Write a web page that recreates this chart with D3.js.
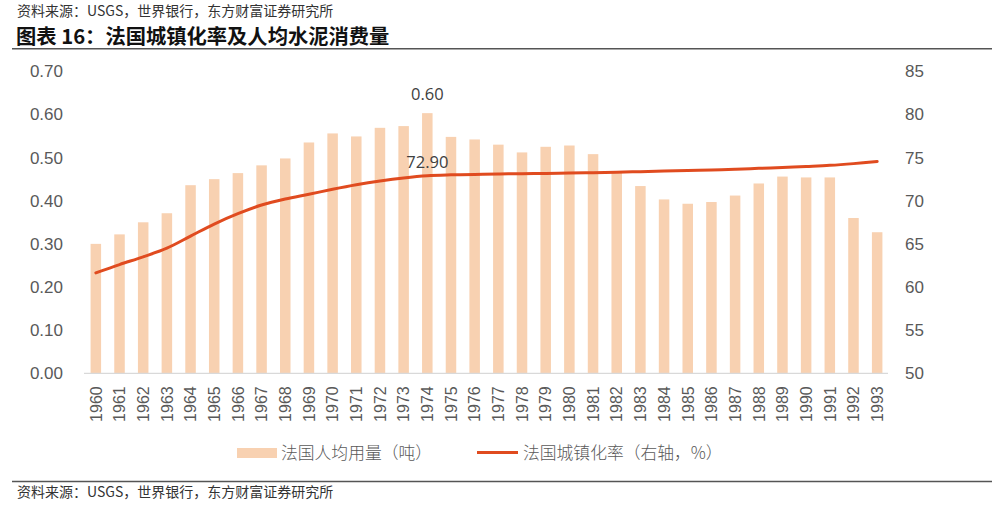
<!DOCTYPE html>
<html><head><meta charset="utf-8">
<script src="https://cdn.jsdelivr.net/npm/d3@7/dist/d3.min.js"></script>
<style>
html,body{margin:0;padding:0;background:#fff;}
svg{display:block;}
</style></head>
<body>
<svg id="chart" width="997" height="505"></svg>
<script>
const years = ["1960","1961","1962","1963","1964","1965","1966","1967","1968","1969","1970","1971","1972","1973","1974","1975","1976","1977","1978","1979","1980","1981","1982","1983","1984","1985","1986","1987","1988","1989","1990","1991","1992","1993"];
const cementPerCapita = [0.30,0.322,0.35,0.371,0.436,0.45,0.464,0.482,0.498,0.535,0.556,0.549,0.569,0.573,0.603,0.548,0.542,0.530,0.512,0.525,0.528,0.508,0.466,0.434,0.403,0.393,0.397,0.412,0.440,0.456,0.454,0.454,0.360,0.327];
const urbanRate = [61.64,62.6,63.5,64.5,65.9,67.3,68.5,69.5,70.2,70.75,71.32,71.84,72.28,72.64,72.9,73.0,73.05,73.1,73.13,73.17,73.2,73.25,73.3,73.37,73.44,73.5,73.57,73.65,73.75,73.85,73.97,74.1,74.3,74.55];
const leftTicks = [0,0.1,0.2,0.3,0.4,0.5,0.6,0.7];
const rightTicks = [50,55,60,65,70,75,80,85];
const headerText = "资料来源：USGS，世界银行，东方财富证券研究所";
const titleText = "图表 16：法国城镇化率及人均水泥消费量";
const legendBar = "法国人均用量（吨）";
const legendLine = "法国城镇化率（右轴，%）";
const labelBarIndex = 14, labelLineIndex = 14;

const svg = d3.select("#chart");
const cjk = "'Noto Sans CJK SC','Liberation Sans',sans-serif";
const num = "'Liberation Sans',Arial,sans-serif";

// header
svg.append("text").attr("x",17).attr("y",16).attr("font-family",cjk).attr("font-size",14)
  .attr("fill","#333").text(headerText);
svg.append("text").attr("x",16).attr("y",44).attr("font-family",cjk).attr("font-size",20.3)
  .attr("font-weight","bold").attr("fill","#111").text(titleText);
svg.append("line").attr("x1",12).attr("x2",992).attr("y1",48.8).attr("y2",48.8)
  .attr("stroke","#555").attr("stroke-width",1.5);

// scales
const x = d3.scaleBand().domain(years).range([84,889]).paddingInner(0.556).paddingOuter(0.278);
const yL = d3.scaleLinear().domain([0,0.7]).range([373.3,71.3]);
const yR = d3.scaleLinear().domain([50,85]).range([373.3,71.3]);

// left axis
const axL = svg.append("g").attr("transform","translate(70,0)")
  .call(d3.axisLeft(yL).tickValues(leftTicks).tickFormat(d3.format(".2f")).tickSize(0).tickPadding(7));
axL.select(".domain").remove();
axL.selectAll("text").attr("font-family",num).attr("font-size",17).attr("fill","#595959");

// right axis
const axR = svg.append("g").attr("transform","translate(905,0)")
  .call(d3.axisRight(yR).tickValues(rightTicks).tickSize(0).tickPadding(0));
axR.select(".domain").remove();
axR.selectAll("text").attr("font-family",num).attr("font-size",17).attr("fill","#595959");

// bars
svg.append("g").selectAll("rect").data(cementPerCapita).join("rect")
  .attr("x",(d,i)=>x(years[i])).attr("width",x.bandwidth())
  .attr("y",d=>yL(d)).attr("height",d=>yL(0)-yL(d))
  .attr("fill","#F8D1B1");

// baseline
svg.append("line").attr("x1",84).attr("x2",888).attr("y1",yL(0)).attr("y2",yL(0))
  .attr("stroke","#D9D9D9").attr("stroke-width",1.3);

// x axis labels
const axB = svg.append("g").attr("transform",`translate(0,${yL(0)})`)
  .call(d3.axisBottom(x).tickSize(0).tickPadding(0));
axB.select(".domain").remove();
axB.selectAll("text").attr("font-family",num).attr("font-size",16).attr("fill","#595959")
  .attr("transform","rotate(-90)").attr("text-anchor","end")
  .attr("x",-13).attr("y",0).attr("dy","0.36em");

// line
const line = d3.line().x((d,i)=>x(years[i])+x.bandwidth()/2).y(d=>yR(d)).curve(d3.curveCatmullRom.alpha(0.5));
svg.append("path").datum(urbanRate).attr("d",line).attr("fill","none")
  .attr("stroke","#E04B1F").attr("stroke-width",3).attr("stroke-linecap","round");

// data labels
svg.append("text").attr("x",x(years[labelBarIndex])+x.bandwidth()/2).attr("y",yL(cementPerCapita[labelBarIndex])-13)
  .attr("text-anchor","middle").attr("font-family","'Open Sans',sans-serif").attr("font-size",16.5)
  .attr("fill","#404040").text(d3.format(".2f")(cementPerCapita[labelBarIndex]));
svg.append("text").attr("x",x(years[labelLineIndex])+x.bandwidth()/2).attr("y",yR(urbanRate[labelLineIndex])-8)
  .attr("text-anchor","middle").attr("font-family","'Open Sans',sans-serif").attr("font-size",16.5)
  .attr("fill","#404040").text(d3.format(".2f")(urbanRate[labelLineIndex]));

// legend
svg.append("rect").attr("x",237).attr("y",448).attr("width",40).attr("height",10).attr("fill","#F8D1B1");
svg.append("text").attr("x",281).attr("y",459).attr("font-family",cjk).attr("font-weight",300)
  .attr("font-size",16.8).attr("fill","#595959").text(legendBar);
svg.append("line").attr("x1",477).attr("x2",518).attr("y1",452.5).attr("y2",452.5)
  .attr("stroke","#E04B1F").attr("stroke-width",3);
svg.append("text").attr("x",523).attr("y",459).attr("font-family",cjk).attr("font-weight",300)
  .attr("font-size",16.8).attr("fill","#595959").text(legendLine);

// footer
svg.append("line").attr("x1",12).attr("x2",992).attr("y1",481.5).attr("y2",481.5)
  .attr("stroke","#555").attr("stroke-width",1.5);
svg.append("text").attr("x",17).attr("y",497).attr("font-family",cjk).attr("font-size",14)
  .attr("fill","#333").text(headerText);
</script>
</body></html>
